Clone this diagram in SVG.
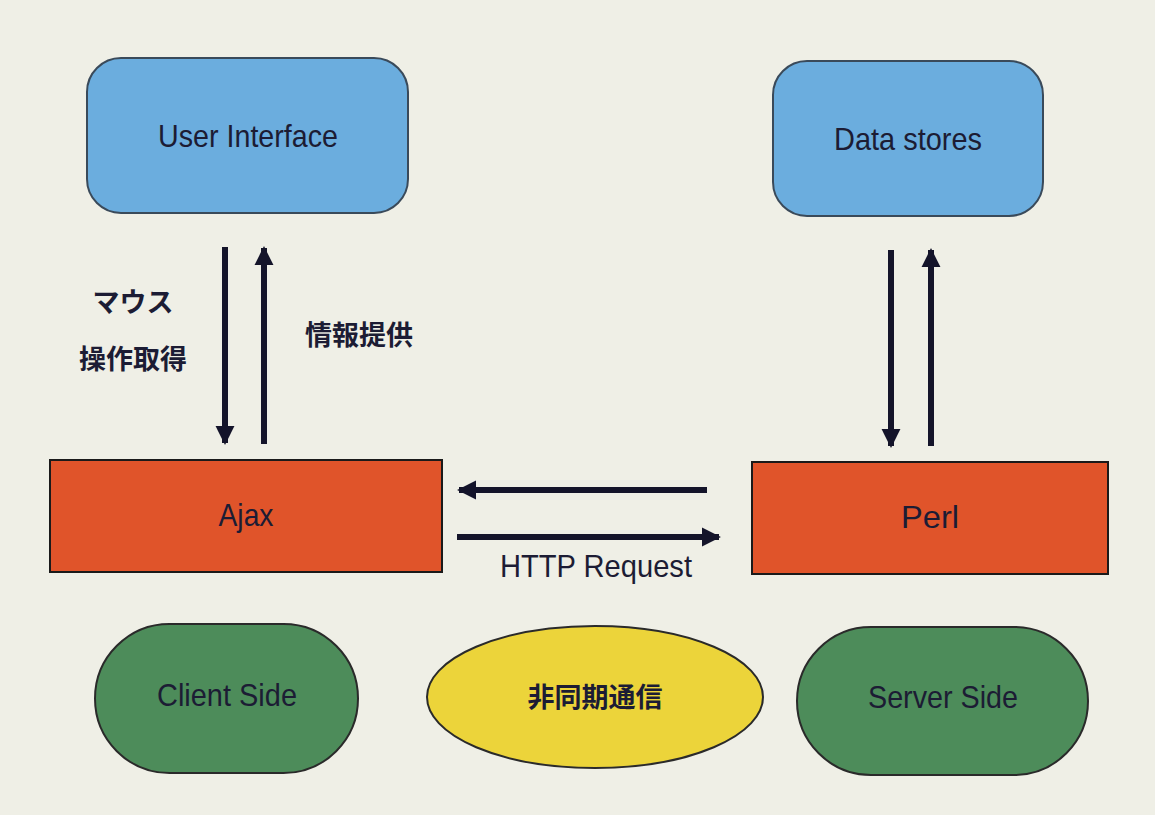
<svg xmlns="http://www.w3.org/2000/svg" width="1155" height="815" viewBox="0 0 1155 815">
<defs>
<style>
.lbl{font-family:"Liberation Sans",Arial,sans-serif;font-size:32px;fill:#1c1c34;text-anchor:middle}
.jp{font-family:"Noto Sans CJK JP","Noto Sans CJK SC",sans-serif;font-size:27px;font-weight:bold;fill:#1c1c34;text-anchor:middle}
.blue{fill:#6badde;stroke:#3a4a5a;stroke-width:2}
.red{fill:#e0542a;stroke:#1a1a1a;stroke-width:2}
.green{fill:#4d8c5a;stroke:#2a2a2a;stroke-width:2}
.yellow{fill:#ecd43a;stroke:#2a2a2a;stroke-width:2}
.arr{stroke:#14142a;stroke-width:6;fill:none;marker-end:url(#ah)}
</style>
<marker id="ah" viewBox="0 0 10 10" refX="9" refY="5" markerWidth="3.2" markerHeight="3.2" orient="auto" markerUnits="strokeWidth">
<path d="M0,0 L10,5 L0,10 z" fill="#14142a"/>
</marker>
</defs>
<rect x="0" y="0" width="1155" height="815" fill="#efefe6"/>
<g id="user-interface">
<rect class="blue" x="87" y="58" width="321" height="155" rx="34"/>
<text class="lbl" x="248" y="147" textLength="180" lengthAdjust="spacingAndGlyphs">User Interface</text>
</g>
<g id="data-stores">
<rect class="blue" x="773" y="61" width="270" height="155" rx="34"/>
<text class="lbl" x="908" y="150" textLength="148" lengthAdjust="spacingAndGlyphs">Data stores</text>
</g>
<g id="ajax">
<rect class="red" x="50" y="460" width="392" height="112"/>
<text class="lbl" x="246" y="526" textLength="55" lengthAdjust="spacingAndGlyphs">Ajax</text>
</g>
<g id="perl">
<rect class="red" x="752" y="462" width="356" height="112"/>
<text class="lbl" x="930" y="528" textLength="58" lengthAdjust="spacingAndGlyphs">Perl</text>
</g>
<g id="client-side">
<rect class="green" x="95" y="624" width="263" height="149" rx="74.5"/>
<text class="lbl" x="227" y="706" textLength="140" lengthAdjust="spacingAndGlyphs">Client Side</text>
</g>
<g id="async">
<ellipse class="yellow" cx="595" cy="697" rx="168" ry="71"/>
<text class="jp" x="595" y="707">非同期通信</text>
</g>
<g id="server-side">
<rect class="green" x="797" y="627" width="291" height="148" rx="74"/>
<text class="lbl" x="943" y="708" textLength="150" lengthAdjust="spacingAndGlyphs">Server Side</text>
</g>
<g id="connectors">
<line class="arr" x1="225" y1="247" x2="225" y2="443"/>
<line class="arr" x1="264" y1="444" x2="264" y2="248"/>
<line class="arr" x1="891" y1="250" x2="891" y2="446"/>
<line class="arr" x1="931" y1="446" x2="931" y2="250"/>
<line class="arr" x1="707" y1="490" x2="459" y2="490"/>
<line class="arr" x1="457" y1="537" x2="719" y2="537"/>
</g>
<g id="labels">
<text class="jp" x="133" y="312">マウス</text>
<text class="jp" x="133" y="369">操作取得</text>
<text class="jp" x="359" y="345">情報提供</text>
<text class="lbl" x="596" y="577" textLength="192" lengthAdjust="spacingAndGlyphs">HTTP Request</text>
</g>
</svg>
